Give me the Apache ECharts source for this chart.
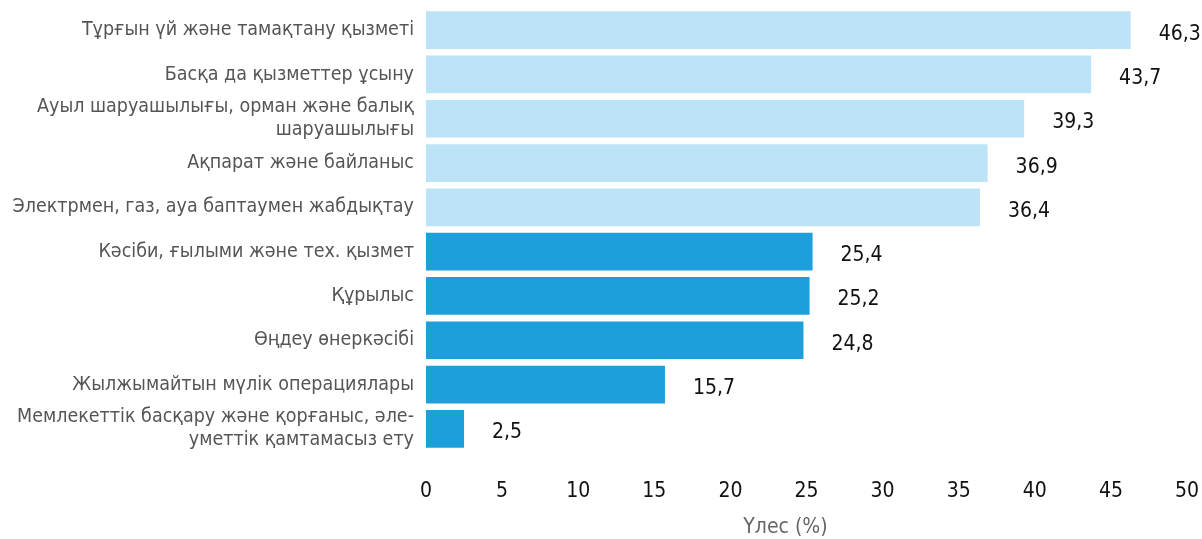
<!DOCTYPE html>
<html>
<head>
<meta charset="utf-8">
<script src="https://cdn.jsdelivr.net/npm/echarts@6/dist/echarts.min.js"></script>
<style>
  html, body { margin: 0; padding: 0; background: #ffffff; }
  #chart { width: 1202px; height: 539px; }
</style>
</head>
<body>
<div id="chart"></div>
<script>
// Sectors, top to bottom
const categories = [
  'Тұрғын үй және тамақтану қызметі',
  'Басқа да қызметтер ұсыну',
  'Ауыл шаруашылығы, орман және балық\nшаруашылығы',
  'Ақпарат және байланыс',
  'Электрмен, газ, ауа баптаумен жабдықтау',
  'Кәсіби, ғылыми және тех. қызмет',
  'Құрылыс',
  'Өңдеу өнеркәсібі',
  'Жылжымайтын мүлік операциялары',
  'Мемлекеттік басқару және қорғаныс, әле-\nуметтік қамтамасыз ету'
];

// Share, %
const shares = [46.3, 43.7, 39.3, 36.9, 36.4, 25.4, 25.2, 24.8, 15.7, 2.5];

// Top group is highlighted in a light tint, the rest in the strong tint
const groups = ['light', 'light', 'light', 'light', 'light', 'dark', 'dark', 'dark', 'dark', 'dark'];

const axisMin = 0;
const axisMax = 50;
const axisStep = 5;
const axisTitle = 'Үлес (%)';

const palette = { light: '#bde3f7', dark: '#1c9fda' };
const font = '"DejaVu Sans Condensed", "Liberation Sans Narrow", sans-serif';

const chart = echarts.init(document.getElementById('chart'), null, { renderer: 'canvas' });

chart.setOption({
  animation: false,
  backgroundColor: '#ffffff',
  grid: {
    left: 426, right: 15, top: 8, bottom: 88,
    containLabel: false,
    outerBoundsMode: 'none'
  },
  xAxis: {
    type: 'value',
    min: axisMin,
    max: axisMax,
    interval: axisStep,
    axisLine: { show: false },
    axisTick: { show: false },
    splitLine: { show: false },
    axisLabel: { color: '#111', fontSize: 21, fontFamily: font, margin: 30 },
    name: axisTitle,
    nameLocation: 'middle',
    nameGap: 66,
    nameTextStyle: { color: '#666', fontSize: 21, fontFamily: font, padding: [0, 42, 0, 0] }
  },
  yAxis: {
    type: 'category',
    data: categories,
    inverse: true,
    axisLine: { show: false },
    axisTick: { show: false },
    splitLine: { show: false },
    axisLabel: {
      color: '#555',
      fontSize: 19.5,
      fontFamily: font,
      margin: 12,
      lineHeight: 23,
      align: 'right'
    }
  },
  series: [{
    type: 'bar',
    barCategoryGap: '15%',
    data: shares.map((v, i) => ({
      value: v,
      itemStyle: { color: palette[groups[i]] }
    })),
    label: {
      show: true,
      position: 'right',
      distance: 28,
      offset: [0, 4],
      color: '#111',
      fontSize: 21,
      fontFamily: font,
      formatter: p => String(p.value).replace('.', ',')
    }
  }]
});
</script>
</body>
</html>
